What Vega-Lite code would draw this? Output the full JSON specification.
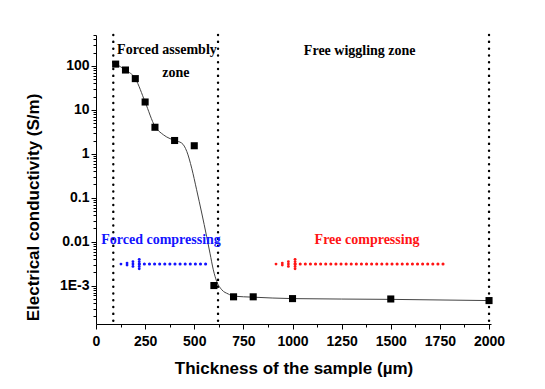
{
  "$schema": "https://vega.github.io/schema/vega-lite/v6.json",
  "width": 395,
  "height": 289,
  "autosize": "none",
  "padding": {"left": 96, "top": 35, "right": 54, "bottom": 65},
  "background": "white",
  "config": {
    "view": {"stroke": null},
    "axis": {"grid": false, "domainColor": "black", "tickColor": "black", "labelColor": "black", "titleColor": "black",
      "labelFont": "Liberation Sans", "labelFontWeight": "bold", "labelFontSize": 14,
      "titleFont": "Liberation Sans", "titleFontWeight": "bold", "titleFontSize": 17}
  },
  "datasets": {
    "measured": [
      {"thickness": 100, "conductivity": 109},
      {"thickness": 150, "conductivity": 80},
      {"thickness": 200, "conductivity": 51},
      {"thickness": 250, "conductivity": 15},
      {"thickness": 300, "conductivity": 4.0},
      {"thickness": 400, "conductivity": 2.0},
      {"thickness": 500, "conductivity": 1.52},
      {"thickness": 600, "conductivity": 0.00101},
      {"thickness": 700, "conductivity": 0.00056},
      {"thickness": 800, "conductivity": 0.00056},
      {"thickness": 1000, "conductivity": 0.00051},
      {"thickness": 1500, "conductivity": 0.0005},
      {"thickness": 2000, "conductivity": 0.00046}
    ],
    "fit": [
      {"thickness": 100, "conductivity": 110},
      {"thickness": 150, "conductivity": 80},
      {"thickness": 200, "conductivity": 51},
      {"thickness": 250, "conductivity": 15},
      {"thickness": 300, "conductivity": 4.2},
      {"thickness": 343, "conductivity": 2.7},
      {"thickness": 400, "conductivity": 2.0},
      {"thickness": 436, "conductivity": 1.75},
      {"thickness": 462, "conductivity": 1.13},
      {"thickness": 487, "conductivity": 0.47},
      {"thickness": 512, "conductivity": 0.152},
      {"thickness": 538, "conductivity": 0.045},
      {"thickness": 563, "conductivity": 0.0132},
      {"thickness": 580, "conductivity": 0.0055},
      {"thickness": 597, "conductivity": 0.0023},
      {"thickness": 614, "conductivity": 0.00126},
      {"thickness": 640, "conductivity": 0.00081},
      {"thickness": 673, "conductivity": 0.00065},
      {"thickness": 700, "conductivity": 0.00058},
      {"thickness": 800, "conductivity": 0.00055},
      {"thickness": 1000, "conductivity": 0.00051},
      {"thickness": 1500, "conductivity": 0.00049},
      {"thickness": 2000, "conductivity": 0.00046}
    ],
    "zones": [{"thickness": 88}, {"thickness": 621}, {"thickness": 2000}],
    "arrows": [
      {"kind": "forced", "from": 220, "to": 575, "conductivity": 0.00311},
      {"kind": "free", "from": 1013, "to": 1776, "conductivity": 0.00311}
    ],
    "heads": [
      {"kind": "forced", "thickness": 127, "conductivity": 0.00311},
      {"kind": "forced", "thickness": 158, "conductivity": 0.00295},
      {"kind": "forced", "thickness": 158, "conductivity": 0.00328},
      {"kind": "forced", "thickness": 188, "conductivity": 0.00275},
      {"kind": "forced", "thickness": 188, "conductivity": 0.00311},
      {"kind": "forced", "thickness": 188, "conductivity": 0.00352},
      {"kind": "forced", "thickness": 220, "conductivity": 0.00243},
      {"kind": "forced", "thickness": 220, "conductivity": 0.00275},
      {"kind": "forced", "thickness": 220, "conductivity": 0.00311},
      {"kind": "forced", "thickness": 220, "conductivity": 0.00352},
      {"kind": "forced", "thickness": 220, "conductivity": 0.00398},
      {"kind": "free", "thickness": 916, "conductivity": 0.00311},
      {"kind": "free", "thickness": 948, "conductivity": 0.00295},
      {"kind": "free", "thickness": 948, "conductivity": 0.00328},
      {"kind": "free", "thickness": 979, "conductivity": 0.00275},
      {"kind": "free", "thickness": 979, "conductivity": 0.00311},
      {"kind": "free", "thickness": 979, "conductivity": 0.00352},
      {"kind": "free", "thickness": 1013, "conductivity": 0.00243},
      {"kind": "free", "thickness": 1013, "conductivity": 0.00275},
      {"kind": "free", "thickness": 1013, "conductivity": 0.00311},
      {"kind": "free", "thickness": 1013, "conductivity": 0.00352},
      {"kind": "free", "thickness": 1013, "conductivity": 0.00398}
    ],
    "labels": [
      {"kind": "zone", "label": "Forced assembly", "thickness": 361, "conductivity": 230},
      {"kind": "zone", "label": "zone", "thickness": 406, "conductivity": 68},
      {"kind": "zone", "label": "Free wiggling zone", "thickness": 1342, "conductivity": 211},
      {"kind": "forced", "label": "Forced compressing", "thickness": 331, "conductivity": 0.0107},
      {"kind": "free", "label": "Free compressing", "thickness": 1379, "conductivity": 0.0107}
    ]
  },
  "encoding": {
    "x": {
      "field": "thickness", "type": "quantitative",
      "scale": {"domain": [0, 2010], "nice": false, "zero": false},
      "axis": {
        "title": "Thickness of the sample (µm)",
        "values": [0, 125, 250, 375, 500, 625, 750, 875, 1000, 1125, 1250, 1375, 1500, 1625, 1750, 1875, 2000],
        "labelExpr": "datum.value % 250 == 0 ? format(datum.value, 'd') : ''",
        "tickSize": {"condition": {"test": "datum.value % 250 == 0", "value": 5}, "value": 3},
        "labelPadding": 5,
        "labelFlush": false,
        "labelOverlap": false,
        "titleY": 36,
        "titleBaseline": "top"
      }
    },
    "y": {
      "field": "conductivity", "type": "quantitative",
      "scale": {"type": "log", "domain": [0.000135, 500], "nice": false},
      "axis": {
        "title": "Electrical conductivity (S/m)",
        "values": [0.0002, 0.0003, 0.0004, 0.0005, 0.0006, 0.0007, 0.0008, 0.0009, 0.001, 0.002, 0.003, 0.004, 0.005, 0.006, 0.007, 0.008, 0.009, 0.01, 0.02, 0.03, 0.04, 0.05, 0.06, 0.07, 0.08, 0.09, 0.1, 0.2, 0.3, 0.4, 0.5, 0.6, 0.7, 0.8, 0.9, 1, 2, 3, 4, 5, 6, 7, 8, 9, 10, 20, 30, 40, 50, 60, 70, 80, 90, 100, 200, 300, 400, 500],
        "labelExpr": "datum.value == 0.001 ? '1E-3' : (indexof([0.01, 0.1, 1, 10, 100], datum.value) >= 0 ? format(datum.value, '~g') : '')",
        "tickSize": {"condition": {"test": "indexof([0.001, 0.01, 0.1, 1, 10, 100], datum.value) >= 0", "value": 5}, "value": 3},
        "labelPadding": 2,
        "labelOverlap": false,
        "labelFlush": false,
        "titleX": -54,
        "titleY": 172,
        "titleAngle": -90,
        "titleBaseline": "bottom",
        "titleAlign": "center"
      }
    }
  },
  "layer": [
    {
      "data": {"name": "zones"},
      "mark": {"type": "rule", "color": "black", "strokeWidth": 2.4, "strokeDash": [0.1, 6.7], "strokeCap": "round"},
      "encoding": {"y": null}
    },
    {
      "data": {"name": "fit"},
      "mark": {"type": "line", "interpolate": "monotone", "color": "#444444", "strokeWidth": 1}
    },
    {
      "data": {"name": "measured"},
      "mark": {"type": "square", "filled": true, "color": "black", "size": 50, "opacity": 1}
    },
    {
      "data": {"name": "arrows"},
      "mark": {"type": "rule", "strokeWidth": 3, "strokeDash": [0.1, 5], "strokeCap": "round"},
      "encoding": {
        "x": {"field": "from", "type": "quantitative"},
        "x2": {"field": "to"},
        "color": {"field": "kind", "type": "nominal", "scale": {"domain": ["forced", "free", "zone"], "range": ["#1414ff", "#ff1414", "black"]}, "legend": null}
      }
    },
    {
      "data": {"name": "heads"},
      "mark": {"type": "circle", "size": 8, "opacity": 1},
      "encoding": {
        "color": {"field": "kind", "type": "nominal", "legend": null}
      }
    },
    {
      "data": {"name": "labels"},
      "mark": {"type": "text", "font": "Liberation Serif", "fontWeight": "bold", "fontSize": 14, "baseline": "middle", "align": "center"},
      "encoding": {
        "text": {"field": "label"},
        "color": {"field": "kind", "type": "nominal", "legend": null}
      }
    }
  ]
}
